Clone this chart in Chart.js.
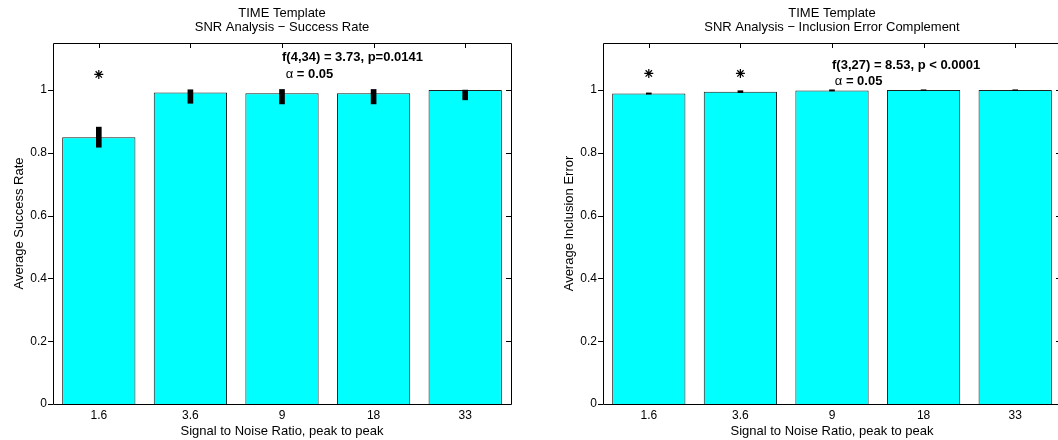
<!doctype html>
<html lang="en">
<head>
<meta charset="utf-8">
<title>TIME Template - SNR Analysis</title>
<script src="https://cdn.jsdelivr.net/npm/chart.js@4.4.0/dist/chart.umd.min.js"></script>
<style>
  html, body { margin: 0; padding: 0; background: #fff; overflow: hidden; }
  #wrap { position: relative; width: 1058px; height: 440px; overflow: hidden; }
  .panel { position: absolute; top: 0; height: 440px; }
</style>
</head>
<body>
<div id="wrap">
  <div class="panel" style="left:0;width:530px"><canvas id="successChart"></canvas></div>
  <div class="panel" style="left:530px;width:540px"><canvas id="inclusionChart"></canvas></div>
</div>

<script>
// shared axes
var snrLabels = ['1.6', '3.6', '9', '18', '33'];
var yTickValues = [0, 0.2, 0.4, 0.6, 0.8, 1];
var yMax = 1.15;

// left: success rate (mean, lower/upper error)
var successMeans   = [0.850, 0.992, 0.990, 0.990, 1.000];
var successErrLow  = [0.032, 0.034, 0.034, 0.034, 0.031];
var successErrHigh = [0.032, 0.009, 0.012, 0.012, 0.000];
var successStars   = [1.05, null, null, null, null];

// right: inclusion error complement
var inclusionMeans   = [0.989, 0.995, 0.999, 1.000, 1.000];
var inclusionErrLow  = [0.002, 0.003, 0.002, 0.001, 0.001];
var inclusionErrHigh = [0.002, 0.003, 0.002, 0.001, 0.001];
var inclusionStars   = [1.053, 1.053, null, null, null];

var FONT = '"Liberation Sans", Arial, Helvetica, sans-serif';

// draws the matlab style box, ticks, titles and text annotations
var matlabFrame = {
  id: 'matlabFrame',
  afterDatasetsDraw: function(chart, args, opts) {
    var ctx = chart.ctx, a = chart.chartArea;
    var xs = chart.scales.x, ys = chart.scales.y;
    ctx.save();
    ctx.strokeStyle = '#000';
    ctx.lineWidth = 1;
    ctx.beginPath();
    ctx.rect(Math.round(a.left) + 0.5, Math.round(a.top) + 0.5,
             Math.round(a.right - a.left), Math.round(a.bottom - a.top));
    ctx.stroke();

    ctx.beginPath();
    yTickValues.forEach(function(v) {
      var py = Math.round(ys.getPixelForValue(v)) + 0.5;
      ctx.moveTo(a.left - 5, py); ctx.lineTo(a.left, py);
      ctx.moveTo(a.right - 5, py); ctx.lineTo(a.right, py);
    });
    snrLabels.forEach(function(l, i) {
      var px = Math.round(xs.getPixelForValue(i)) + 0.5;
      ctx.moveTo(px, a.top); ctx.lineTo(px, a.top + 5);
    });
    ctx.stroke();

    var cx = (a.left + a.right) / 2;
    ctx.fillStyle = '#000';
    ctx.textAlign = 'center';
    ctx.textBaseline = 'middle';
    ctx.font = '13px ' + FONT;
    ctx.fillText(opts.title[0], cx, 13);
    ctx.fillText(opts.title[1], cx, 27.5);
    ctx.fillText(opts.xTitle, cx, 431);

    ctx.save();
    ctx.translate(a.left - 34, (a.top + a.bottom) / 2);
    ctx.rotate(-Math.PI / 2);
    ctx.fillText(opts.yTitle, 0, 0);
    ctx.restore();

    ctx.textAlign = 'left';
    opts.notes.forEach(function(n) {
      var px = xs.getPixelForValue(n.x), py = ys.getPixelForValue(n.y);
      n.parts.forEach(function(p) {
        ctx.font = (p.bold ? 'bold ' : '') + '13px ' + FONT;
        ctx.fillText(p.text, px, py);
        px += ctx.measureText(p.text).width;
      });
    });
    ctx.restore();
  }
};

function makePanel(id, means, errLow, errHigh, stars, axisWidth, padRight, frame) {
  var errBars = means.map(function(m, i) { return [m - errLow[i], m + errHigh[i]]; });
  return new Chart(document.getElementById(id), {
    type: 'bar',
    data: {
      labels: snrLabels,
      datasets: [
        { type: 'line', data: stars, showLine: false, pointStyle: 'star',
          pointRadius: 4.5, borderColor: '#000', borderWidth: 1.2, order: 0 },
        { data: errBars, backgroundColor: '#000', borderWidth: 0,
          barThickness: 5, grouped: false, order: 1 },
        { data: means, backgroundColor: '#00ffff', borderColor: '#1e1e1e', borderWidth: 1,
          barPercentage: 0.8, categoryPercentage: 1.0, grouped: false, order: 2 }
      ]
    },
    options: {
      responsive: true,
      maintainAspectRatio: false,
      animation: false,
      events: [],
      layout: { padding: { top: 43, right: padRight, bottom: 0, left: 0 } },
      scales: {
        x: {
          grid: { display: false, drawTicks: false },
          border: { display: false },
          ticks: { color: '#000', font: { family: FONT, size: 12 }, padding: 4 },
          afterFit: function(s) { s.height = 36; }
        },
        y: {
          min: 0, max: yMax,
          grid: { display: false, drawTicks: false },
          border: { display: false },
          ticks: {
            color: '#000', font: { family: FONT, size: 12 }, padding: 6,
            callback: function(v) { return String(Math.round(v * 10) / 10); }
          },
          afterBuildTicks: function(s) {
            s.ticks = yTickValues.map(function(v) { return { value: v }; });
          },
          afterFit: function(s) { s.width = axisWidth; }
        }
      },
      plugins: {
        legend: { display: false },
        tooltip: { enabled: false },
        matlabFrame: frame
      }
    },
    plugins: [matlabFrame]
  });
}

makePanel('successChart', successMeans, successErrLow, successErrHigh, successStars, 53, 19, {
  title: ['TIME Template', 'SNR Analysis \u2212 Success Rate'],
  xTitle: 'Signal to Noise Ratio, peak to peak',
  yTitle: 'Average Success Rate',
  notes: [
    { x: 2, y: 1.104, parts: [{ text: 'f(4,34) = 3.73, p=0.0141', bold: true }] },
    { x: 2.04, y: 1.049, parts: [{ text: '\u03b1', bold: false }, { text: ' = 0.05', bold: true }] }
  ]
});

makePanel('inclusionChart', inclusionMeans, inclusionErrLow, inclusionErrHigh, inclusionStars, 73, 9, {
  title: ['TIME Template', 'SNR Analysis \u2212 Inclusion Error Complement'],
  xTitle: 'Signal to Noise Ratio, peak to peak',
  yTitle: 'Average Inclusion Error',
  notes: [
    { x: 2, y: 1.079, parts: [{ text: 'f(3,27) = 8.53, p < 0.0001', bold: true }] },
    { x: 2.03, y: 1.028, parts: [{ text: '\u03b1', bold: false }, { text: ' = 0.05', bold: true }] }
  ]
});
</script>
</body>
</html>
